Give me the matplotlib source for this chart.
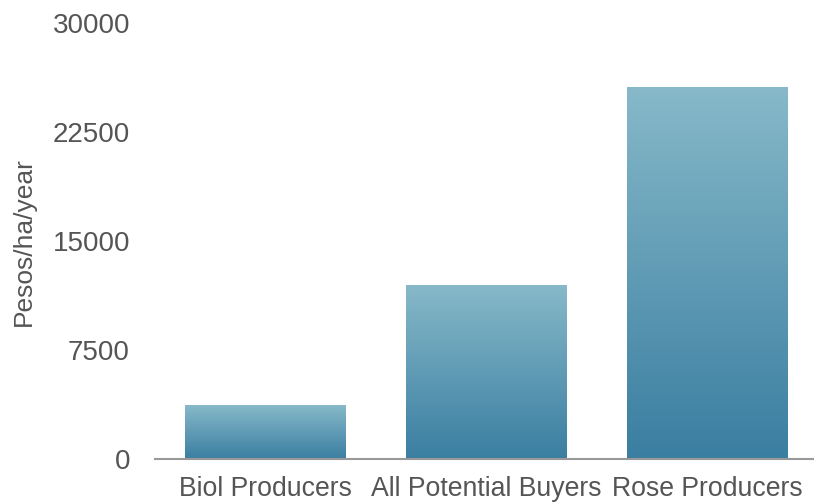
import numpy as np
import matplotlib.pyplot as plt
from matplotlib.colors import LinearSegmentedColormap

categories = ['Biol Producers', 'All Potential Buyers', 'Rose Producers']
values = [3700, 12000, 25600]
yticks = [0, 7500, 15000, 22500, 30000]

plt.rcParams['font.family'] = ['Liberation Sans', 'DejaVu Sans']

fig = plt.figure(figsize=(8.14, 5.04), dpi=100)
ax = fig.add_axes([0.1904, 0.089, 0.8145, 0.865])

# gradient per bar: light at top, dark at bottom
cmap = LinearSegmentedColormap.from_list('bar', ['#3a7ea1', '#87b9c9'])
grad = np.linspace(0, 1, 256).reshape(-1, 1)

bars = ax.bar(range(len(categories)), values, width=0.725, color='none', edgecolor='none')
for b in bars:
    x0, y0 = b.get_x(), b.get_y()
    w, h = b.get_width(), b.get_height()
    im = ax.imshow(grad, cmap=cmap, aspect='auto', origin='lower',
                   extent=[x0, x0 + w, y0, y0 + h], zorder=2)
    im.set_clip_path(b)

ax.set_xlim(-0.5, 2.5)
ax.set_ylim(0, 30000)
ax.set_yticks(yticks)
ax.set_yticklabels([str(t) for t in yticks])
ax.set_xticks(range(len(categories)))
ax.set_xticklabels(categories)

for s in ['top', 'right', 'left']:
    ax.spines[s].set_visible(False)
ax.spines['bottom'].set_color('#999999')
ax.spines['bottom'].set_linewidth(1.5)

ax.tick_params(axis='y', length=0, pad=18, labelsize=20, labelcolor='#555555')
ax.tick_params(axis='x', length=0, pad=12, labelsize=19.2, labelcolor='#555555')

ax.set_ylabel('Pesos/ha/year', fontsize=19, color='#555555', labelpad=12)

fig.savefig('out.png', dpi=100)
